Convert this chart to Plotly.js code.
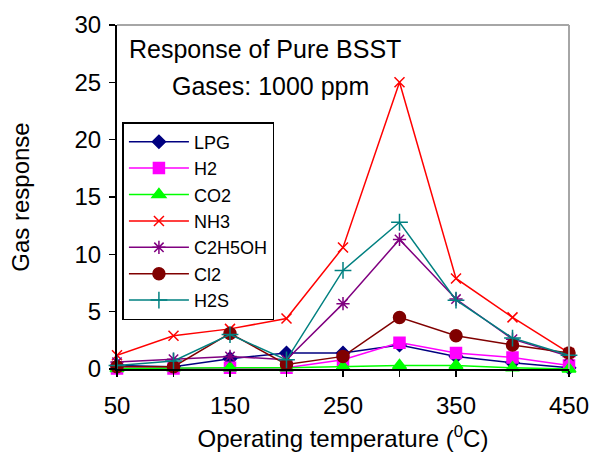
<!DOCTYPE html>
<html>
<head>
<meta charset="utf-8">
<script src="https://cdn.plot.ly/plotly-3.0.1.min.js"></script>
<style>
  html, body { margin: 0; padding: 0; background: #fff; }
  #chart { width: 589px; height: 459px; }
</style>
</head>
<body>
<div id="chart"></div>
<script>
// Operating temperatures (°C)
const temperatures = [50, 100, 150, 200, 250, 300, 350, 400, 450];

// Gas response of pure BSST to each gas at 1000 ppm
const lpg    = [0.3, 0.2, 0.9, 1.4, 1.4, 2.1, 1.1, 0.55, 0.1];
const h2     = [0.05, 0.05, 0.1, 0.1, 0.8, 2.3, 1.4, 1.0, 0.3];
const co2    = [0.05, 0.1, 0.1, 0.1, 0.2, 0.3, 0.3, 0.1, 0.0];
const nh3    = [1.2, 2.9, 3.5, 4.4, 10.6, 25.0, 7.9, 4.5, 1.4];
const c2h5oh = [0.6, 0.85, 1.1, 0.8, 5.7, 11.3, 6.1, 2.6, 1.1];
const cl2    = [0.2, 0.2, 3.1, 0.4, 1.1, 4.5, 2.9, 2.1, 1.4];
const h2s    = [0.3, 0.7, 3.0, 0.8, 8.6, 12.8, 6.0, 2.7, 1.2];

// Axis ticks: labels every 100 °C, minor marks every 50 °C
const xTickVals = [50, 150, 250, 350, 450];
const xTickText = ['50', '150', '250', '350', '450'];
const yTickVals = [0, 5, 10, 15, 20, 25, 30];

const FONT = 'Liberation Sans, Arial, sans-serif';

function series(name, y, color, symbol, size) {
  return {
    type: 'scatter',
    mode: 'lines+markers',
    name: name,
    x: temperatures,
    y: y,
    line: { color: color, width: 1.5 },
    marker: { color: color, symbol: symbol, size: size,
              line: { color: color, width: 1.5 } },
    cliponaxis: false
  };
}

const traces = [
  series('LPG', lpg, '#000080', 'diamond', 10),
  series('H2', h2, '#ff00ff', 'square', 11),
  series('CO2', co2, '#00ff00', 'triangle-up', 12),
  series('NH3', nh3, '#ff0000', 'x-thin', 10),
  series('C2H5OH', c2h5oh, '#800080', 'asterisk', 11),
  series('Cl2', cl2, '#800000', 'circle', 12),
  series('H2S', h2s, '#008080', 'cross-thin', 12)
];

const layout = {
  width: 589,
  height: 459,
  margin: { l: 117, r: 20, t: 25, b: 90 },
  paper_bgcolor: '#ffffff',
  plot_bgcolor: '#ffffff',
  font: { family: FONT, color: '#000000', size: 24 },
  showlegend: true,
  legend: {
    x: 0.012, y: 0.718, xanchor: 'left', yanchor: 'top',
    bgcolor: '#ffffff',
    bordercolor: '#000000',
    borderwidth: 1.5,
    font: { family: FONT, size: 18, color: '#000000' },
    tracegroupgap: 0,
    itemwidth: 60
  },
  xaxis: {
    range: [50, 450],
    tickmode: 'array',
    tickvals: xTickVals,
    ticktext: xTickText,
    ticks: 'outside',
    ticklen: 6,
    tickwidth: 1.5,
    tickcolor: '#000000',
    ticklabelstandoff: 8,
    ticklabeloverflow: 'allow',
    minor: { tickmode: 'linear', tick0: 50, dtick: 50, ticks: 'outside',
             ticklen: 6, tickwidth: 1.5, tickcolor: '#000000', showgrid: false },
    showline: true,
    linecolor: '#000000',
    linewidth: 2,
    showgrid: false,
    zeroline: false,
    tickfont: { family: FONT, size: 24 },
    title: { text: 'Operating temperature (<sup>0</sup>C)',
             font: { family: FONT, size: 24 }, standoff: 12 }
  },
  yaxis: {
    range: [0, 30],
    tickmode: 'array',
    tickvals: yTickVals,
    ticks: 'outside',
    ticklen: 6,
    tickwidth: 1.5,
    tickcolor: '#000000',
    ticklabelstandoff: 3,
    showline: true,
    linecolor: '#000000',
    linewidth: 2,
    showgrid: false,
    zeroline: false,
    tickfont: { family: FONT, size: 24 },
    title: { text: 'Gas response', font: { family: FONT, size: 24 }, standoff: 38 }
  },
  shapes: [
    // light grey frame on the top and right of the plot area
    { type: 'line', xref: 'paper', yref: 'paper', x0: 0, x1: 1, y0: 1, y1: 1,
      line: { color: '#a6a6a6', width: 2 } },
    { type: 'line', xref: 'paper', yref: 'paper', x0: 1, x1: 1, y0: 0, y1: 1,
      line: { color: '#a6a6a6', width: 2 } }
  ],
  annotations: [
    { text: 'Response of Pure BSST', xref: 'paper', yref: 'paper',
      x: 0.327, y: 0.93, xanchor: 'center', yanchor: 'middle', showarrow: false,
      font: { family: FONT, size: 25 } },
    { text: 'Gases: 1000 ppm', xref: 'paper', yref: 'paper',
      x: 0.34, y: 0.822, xanchor: 'center', yanchor: 'middle', showarrow: false,
      font: { family: FONT, size: 25 } }
  ]
};

Plotly.newPlot('chart', traces, layout, { displayModeBar: false, staticPlot: true });
</script>
</body>
</html>
